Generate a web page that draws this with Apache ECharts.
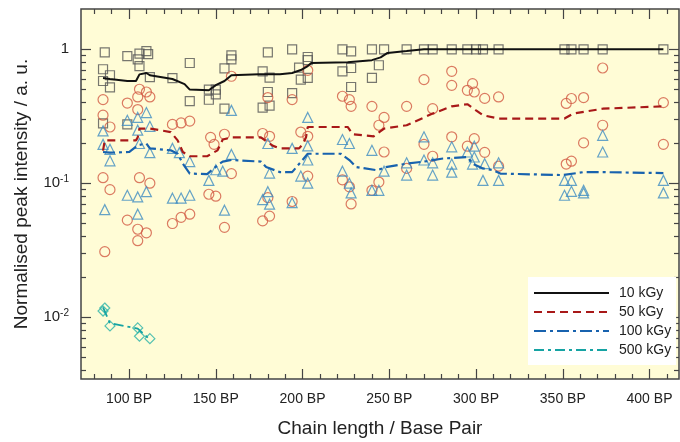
<!DOCTYPE html>
<html>
<head>
<meta charset="utf-8">
<script src="https://cdn.jsdelivr.net/npm/echarts@6/dist/echarts.min.js"></script>
<style>
    html, body {margin: 0; padding: 0; background: #fff;}
    #chart {width: 680px; height: 442px;}
</style>
</head>
<body>
<div id="chart"></div>
<script>
//--------------------------------------------------------【axis ticks】
var bpMajor = [100, 150, 200, 250, 300, 350, 400];
var bpMinor = [80, 90, 110, 120, 130, 140, 160, 170, 180, 190, 210, 220, 230, 240, 260, 270, 280, 290,
    310, 320, 330, 340, 360, 370, 380, 390, 410];
var yMajor = [0.01, 0.1, 1];
var yMinor = [0.004, 0.005, 0.006, 0.007, 0.008, 0.009, 0.02, 0.03, 0.04, 0.05, 0.06, 0.07, 0.08, 0.09,
    0.2, 0.3, 0.4, 0.5, 0.6, 0.7, 0.8, 0.9];

//--------------------------------------------------------【measured points】
var kgy10Points = [
    [86, 0.95], [85, 0.71], [89, 0.64], [85, 0.58], [89, 0.52], [85, 0.28],
    [99, 0.89], [99, 0.275],
    [106, 0.93], [105, 0.84], [110, 0.97], [111, 0.92], [106, 0.75], [112, 0.62],
    [125, 0.61], [135, 0.79], [135, 0.41],
    [146, 0.50], [150, 0.50], [146, 0.42], [150, 0.46],
    [155, 0.72], [155, 0.36], [159, 0.90], [159, 0.84],
    [180, 0.95], [177, 0.685], [181, 0.615], [180, 0.48], [181, 0.38], [177, 0.367],
    [194, 1.0], [194, 0.47], [198, 0.73], [203, 0.876], [203, 0.83], [199, 0.594], [203, 0.611],
    [223, 1.0], [228, 0.966], [223, 0.685], [228, 0.725], [228, 0.523],
    [240, 1.0], [247, 1.0], [244, 0.76], [240, 0.611],
    [260, 1.0], [270, 1.0], [275, 1.0], [286, 1.0], [295, 1.0], [300, 1.0], [304, 1.0],
    [313, 1.0], [351, 1.0], [355, 1.0], [362, 1.0], [373, 1.0], [408, 1.0]
];
var kgy50Points = [
    [85, 0.421], [85, 0.322], [89, 0.263], [85, 0.11], [89, 0.0895], [86, 0.0308],
    [99, 0.397], [99, 0.053],
    [106, 0.503], [105, 0.441], [110, 0.48], [112, 0.441], [105, 0.355], [106, 0.11], [112, 0.1],
    [105, 0.0453], [105, 0.0372], [110, 0.0426],
    [125, 0.275], [130, 0.282], [135, 0.291], [125, 0.05], [130, 0.0556], [135, 0.0587],
    [147, 0.22], [149, 0.195], [146, 0.0827], [150, 0.080],
    [155, 0.232], [155, 0.0468], [159, 0.629], [159, 0.118],
    [177, 0.235], [181, 0.224], [180, 0.436], [180, 0.078], [177, 0.0523], [181, 0.0568],
    [194, 0.421], [194, 0.073],
    [199, 0.241], [203, 0.697], [203, 0.224], [203, 0.113],
    [223, 0.446], [227, 0.421], [228, 0.375], [223, 0.106], [227, 0.094], [228, 0.07],
    [240, 0.375], [247, 0.31], [244, 0.271], [247, 0.171], [244, 0.102], [240, 0.0885],
    [260, 0.375], [260, 0.129],
    [270, 0.594], [270, 0.195], [275, 0.36], [275, 0.159],
    [286, 0.685], [286, 0.538], [286, 0.222],
    [295, 0.494], [298, 0.554], [299, 0.48], [299, 0.215], [295, 0.189],
    [305, 0.43], [313, 0.441], [305, 0.17], [313, 0.134],
    [352, 0.394], [355, 0.429], [362, 0.436], [362, 0.2], [352, 0.139], [355, 0.146],
    [373, 0.725], [373, 0.271], [408, 0.40], [408, 0.195]
];
var kgy100Points = [
    [85, 0.246], [85, 0.195], [89, 0.179], [89, 0.147], [86, 0.0635],
    [99, 0.295], [99, 0.0813],
    [105, 0.31], [110, 0.337], [105, 0.249], [106, 0.198], [112, 0.169], [112, 0.266],
    [105, 0.079], [110, 0.0865], [105, 0.0587],
    [125, 0.182], [129, 0.169], [135, 0.145], [125, 0.0773], [130, 0.0775], [135, 0.0813],
    [146, 0.105], [150, 0.126], [154, 0.123], [155, 0.0629],
    [159, 0.164], [159, 0.35],
    [180, 0.198], [181, 0.119], [177, 0.0755], [180, 0.0865], [181, 0.0698],
    [203, 0.31], [194, 0.182], [203, 0.19], [203, 0.149], [199, 0.113], [203, 0.1], [194, 0.0715],
    [223, 0.212], [227, 0.198], [223, 0.123], [227, 0.1], [228, 0.0847],
    [240, 0.176], [240, 0.0885], [244, 0.0885], [247, 0.123],
    [260, 0.142], [260, 0.115],
    [270, 0.222], [270, 0.149], [275, 0.142], [275, 0.115],
    [286, 0.187], [286, 0.139], [286, 0.121],
    [295, 0.171], [299, 0.189], [299, 0.157], [298, 0.139], [304, 0.105],
    [305, 0.14], [313, 0.142], [313, 0.105],
    [351, 0.105], [355, 0.105], [351, 0.0813], [355, 0.087], [362, 0.0885], [362, 0.0847],
    [373, 0.228], [373, 0.171], [408, 0.105], [408, 0.0847]
];
var kgy500Points = [[86, 0.0117], [85, 0.0111], [89, 0.0086], [105, 0.0083], [106, 0.0072], [112, 0.0069]];

//--------------------------------------------------------【running averages】
var kgy10Line = [
    [85, 0.61], [89, 0.60], [99, 0.58], [104, 0.58], [106, 0.65], [110, 0.665], [112, 0.64],
    [125, 0.60], [132, 0.55], [135, 0.50], [146, 0.494], [150, 0.54], [155, 0.58], [159, 0.64],
    [175, 0.65], [187, 0.65], [194, 0.665], [199, 0.70], [203, 0.75], [205, 0.79], [226, 0.80],
    [240, 0.83], [245, 0.87], [249, 0.94], [260, 0.97], [270, 1.0], [408, 1.0]
];
var kgy50Line = [
    [85, 0.175], [86, 0.209], [104, 0.209], [105, 0.22], [106, 0.256], [112, 0.256], [124, 0.241],
    [128, 0.209], [131, 0.171], [135, 0.159], [145, 0.159], [151, 0.176], [154, 0.212], [159, 0.22],
    [176, 0.22], [183, 0.19], [187, 0.182], [198, 0.182], [200, 0.195], [202, 0.22], [203, 0.263],
    [226, 0.263], [229, 0.232], [241, 0.224], [247, 0.256], [260, 0.271], [275, 0.331], [286, 0.375],
    [295, 0.389], [300, 0.35], [304, 0.322], [313, 0.304], [351, 0.304], [356, 0.331], [373, 0.36],
    [408, 0.375]
];
var kgy100Line = [
    [85, 0.171], [89, 0.169], [100, 0.171], [105, 0.192], [110, 0.198], [112, 0.182], [124, 0.176],
    [128, 0.166], [131, 0.14], [135, 0.118], [145, 0.117], [151, 0.136], [154, 0.145], [159, 0.149],
    [176, 0.145], [179, 0.132], [187, 0.121], [194, 0.121], [200, 0.149], [203, 0.166], [222, 0.166],
    [227, 0.149], [231, 0.132], [243, 0.125], [248, 0.132], [260, 0.14], [270, 0.145], [281, 0.153],
    [295, 0.157], [298, 0.14], [304, 0.129], [310, 0.125], [314, 0.118], [350, 0.115], [362, 0.121],
    [373, 0.121], [408, 0.119]
];
var kgy500Line = [[85, 0.0118], [89, 0.0090], [105, 0.0082], [112, 0.0068]];

//--------------------------------------------------------【chart】
var axisColor = '#444';
var font = 'Liberation Sans, Arial, sans-serif';

function xAxisOf(position, ticks, len, withLabel) {
    return {
        type: 'value', position: position, min: 72.3, max: 417,
        axisLine: {show: false}, splitLine: {show: false},
        axisTick: {show: true, inside: true, length: len, customValues: ticks,
            lineStyle: {color: axisColor, width: 1.2}},
        axisLabel: withLabel ? {
            show: true, customValues: bpMajor, margin: 13, fontSize: 14, fontFamily: font, color: '#222',
            formatter: '{value} BP'
        } : {show: false}
    };
}

function yAxisOf(position, ticks, len, withLabel) {
    return {
        type: 'log', logBase: 10, position: position, min: 0.00345, max: 2,
        axisLine: {show: false}, splitLine: {show: false},
        axisTick: {show: true, inside: true, length: len, customValues: ticks,
            lineStyle: {color: axisColor, width: 1.2}},
        axisLabel: withLabel ? {
            show: true, customValues: yMajor, margin: 12, fontSize: 15, fontFamily: font, color: '#222',
            formatter: function (v) {
                if (v >= 0.99) return '1';
                return '10{sup|' + Math.round(Math.log10(v)) + '}';
            },
            rich: {sup: {fontSize: 10, fontFamily: font, color: '#222', verticalAlign: 'top', padding: [0, 0, 8, 0]}}
        } : {show: false}
    };
}

var xAxes = [xAxisOf('bottom', bpMajor, 10, true), xAxisOf('bottom', bpMinor, 5, false),
    xAxisOf('top', bpMajor, 10, false), xAxisOf('top', bpMinor, 5, false)];
xAxes[0].name = 'Chain length / Base Pair';
xAxes[0].nameLocation = 'middle';
xAxes[0].nameGap = 40;
xAxes[0].nameTextStyle = {fontSize: 19, fontFamily: font, color: '#222'};

var yAxes = [yAxisOf('left', yMajor, 10, true), yAxisOf('left', yMinor, 5, false),
    yAxisOf('right', yMajor, 10, false), yAxisOf('right', yMinor, 5, false)];
yAxes[0].name = 'Normalised peak intensity / a. u.';
yAxes[0].nameLocation = 'middle';
yAxes[0].nameGap = 50;
yAxes[0].nameTextStyle = {fontSize: 19, fontFamily: font, color: '#222'};

function scatterOf(name, data, symbol, size, color) {
    return {
        name: name, type: 'scatter', data: data, symbol: symbol, symbolSize: size, z: 2,
        itemStyle: {color: 'transparent', borderColor: color, borderWidth: 1.2}
    };
}

function lineOf(name, data, color, type, width) {
    return {
        name: name, type: 'line', data: data, symbol: 'none', z: 4,
        lineStyle: {color: color, type: type, width: width},
        itemStyle: {color: color}
    };
}

echarts.init(document.getElementById('chart')).setOption({
    animation: false,
    backgroundColor: '#fff',
    grid: {
        left: 81, right: 1, top: 9, bottom: 63, outerBoundsMode: 'none',
        show: true, backgroundColor: '#FFFCD6', borderColor: axisColor, borderWidth: 1.5
    },
    legend: {
        orient: 'vertical', left: 528, top: 277,
        data: ['10 kGy', '50 kGy', '100 kGy', '500 kGy'],
        backgroundColor: '#fff', padding: [9, 5, 8, 5], itemGap: 5,
        itemWidth: 75, itemHeight: 14,
        itemStyle: {opacity: 0},
        textStyle: {fontSize: 14, fontFamily: font, color: '#222', padding: [0, 0, 0, 5]}
    },
    xAxis: xAxes,
    yAxis: yAxes,
    series: [
        scatterOf('s10', kgy10Points, 'rect', 9, '#555'),
        scatterOf('s50', kgy50Points, 'circle', 10, '#D25A44'),
        scatterOf('s100', kgy100Points, 'triangle', 10, '#3F8CC2'),
        scatterOf('s500', kgy500Points, 'diamond', 10, '#2BB3A8'),
        lineOf('10 kGy', kgy10Line, '#111', 'solid', 2),
        lineOf('50 kGy', kgy50Line, '#A81818', [8, 5], 2.2),
        lineOf('100 kGy', kgy100Line, '#1862AE', [12, 4, 3, 4], 2.2),
        lineOf('500 kGy', kgy500Line, '#16A3A3', [10, 4, 3, 4], 1.8)
    ]
});
</script>
</body>
</html>
